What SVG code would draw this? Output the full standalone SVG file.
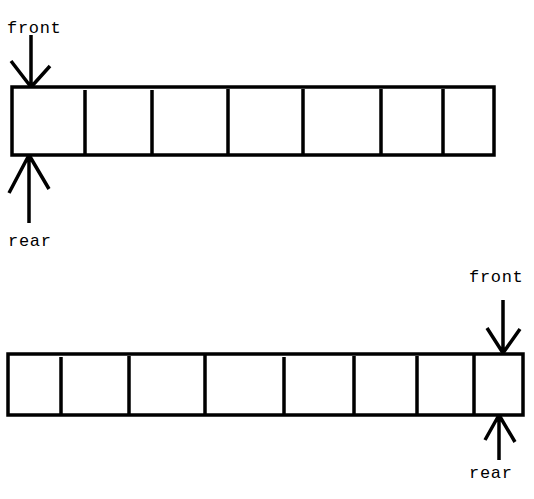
<svg xmlns="http://www.w3.org/2000/svg" width="534" height="499" viewBox="0 0 534 499">
<style>
.ln{stroke:#000;stroke-width:3.5;fill:none;stroke-linecap:butt}
.box{stroke:#000;stroke-width:3.5;fill:#fff}
.t{font-family:"Liberation Mono","DejaVu Sans Mono",monospace;font-size:17px;letter-spacing:0.7px;fill:#000}
</style>
<rect width="534" height="499" fill="#fff"/>
<g id="queue1">
<rect class="box" x="12" y="87" width="482" height="68"/>
<path class="ln" d="M85 90V155M152 90V155M228 89V155M303 89V155M381 89V155M443 89V155"/>
</g>
<g id="queue2">
<rect class="box" x="8" y="354" width="515" height="61"/>
<path class="ln" d="M61 357V415M129 356V415M205 355V415M284 357V415M354 356V415M417 356V415M474 355V415"/>
</g>
<g id="labels">
<text class="t" x="7" y="33">front</text>
<text class="t" x="8" y="246">rear</text>
<text class="t" x="469" y="282">front</text>
<text class="t" x="469" y="478">rear</text>
</g>
<g id="connectors">
<path class="ln" d="M31 35V88M11 61L31 87M50 66L32 86"/>
<path class="ln" d="M29 223V154M9 193L29 155M49 189L29 155"/>
<path class="ln" d="M503 300V354M487 328L503 353M520 329L503 353"/>
<path class="ln" d="M499 460V414M485 440L499 415M515 442L499 415"/>
</g>
</svg>
